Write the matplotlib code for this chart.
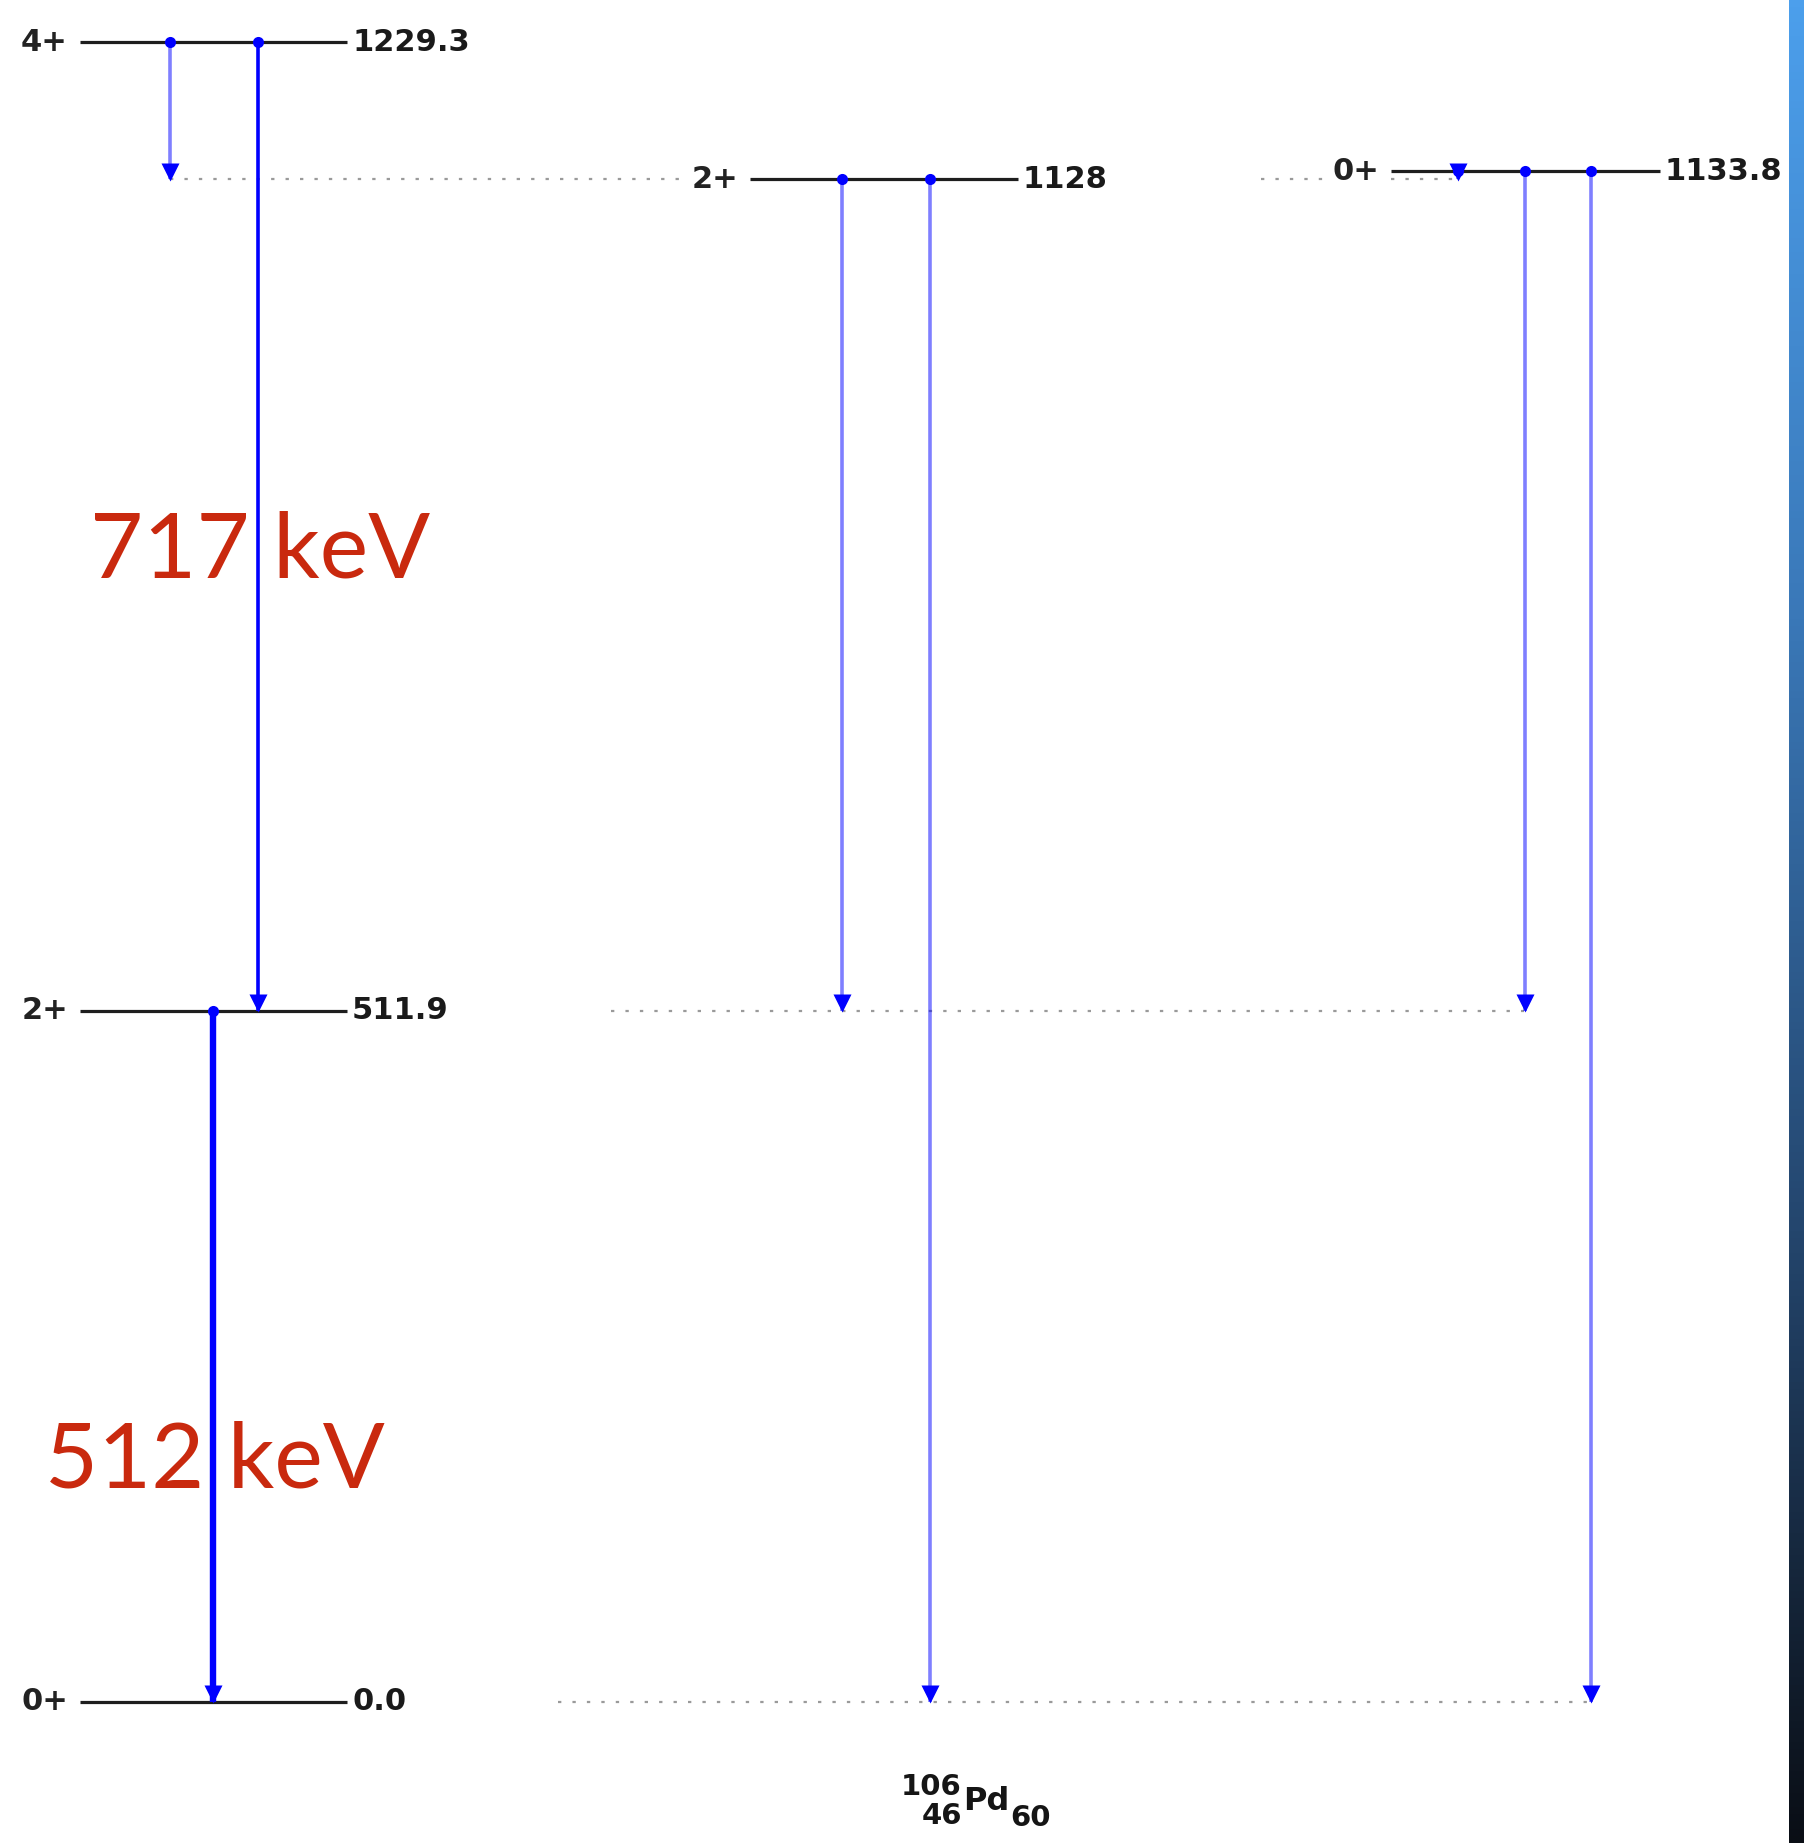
import matplotlib.pyplot as plt
import numpy as np
from matplotlib.colors import LinearSegmentedColormap
from matplotlib.transforms import offset_copy

W, H = 1804, 1843

# level scheme of 106Pd (energies in keV)
level_energy = [0.0, 511.9, 1229.3, 1128.0, 1133.8]
level_spin = ['0+', '2+', '4+', '2+', '0+']
level_text = ['0.0', '511.9', '1229.3', '1128', '1133.8']
level_col = [0, 0, 0, 1, 2]

# gamma transitions: initial level -> final level
gamma_from = [2, 2, 1, 3, 3, 4, 4, 4]
gamma_to = [3, 1, 0, 1, 0, 3, 1, 0]
gamma_kind = ['weak', 'strong', 'main', 'weak', 'weak', 'weak', 'weak', 'weak']

big_labels = ['717 keV', '512 keV']
# nucleus label pieces: mass, proton number, symbol, neutron number
nucleus = ['106', '46', 'Pd', '60']

# layout, in pixels
px_per_kev = 1.35
zero_px = 1702
col_x = [(80, 347), (750, 1018), (1391, 1660)]
gamma_x = [170, 258, 213, 842, 930, 1458, 1525, 1591]
guide_level = [3, 3, 1, 0]
guide_x = [(170, 690), (1261, 1458), (611, 1524), (558, 1590)]
big_pos = [(90, 577), (45, 1487)]
nuc_pos = [(962, 1795, 'right', 21), (962, 1824, 'right', 21),
           (963, 1810, 'left', 23), (1010, 1826, 'left', 21)]

styles = {
    'weak': dict(lw=2.6, alpha=0.5),
    'strong': dict(lw=2.6, alpha=1.0),
    'main': dict(lw=4.6, alpha=1.0),
}

fig = plt.figure(figsize=(W / 100, H / 100), dpi=100)
ax = fig.add_axes([0, 0, 1, 1])
ax.set_xlim(0, W)
ax.set_ylim((zero_px - H) / px_per_kev, zero_px / px_per_kev)
ax.axis('off')

# dotted guides
for lev, (x0, x1) in zip(guide_level, guide_x):
    e = level_energy[lev]
    ax.plot([x0, x1], [e, e], color='#9a9a9a', lw=1.6,
            linestyle=(0, (1.5, 5)), zorder=1)

# levels
for e, spin, txt, col in zip(level_energy, level_spin, level_text, level_col):
    x0, x1 = col_x[col]
    ax.plot([x0, x1], [e, e], color='#1e1e1e', lw=2.3, zorder=2,
            solid_capstyle='butt')
    ax.text(x0 - 12, e, spin, ha='right', va='center', fontsize=22,
            fontweight='bold', color='#222222', zorder=5,
            bbox=dict(facecolor='white', edgecolor='none', pad=1))
    ax.text(x1 + 5, e, txt, ha='left', va='center', fontsize=22,
            fontweight='bold', color='#1a1a1a', zorder=5)

# gamma rays
ms_head = 13
head_tr = offset_copy(ax.transData, fig=fig, y=ms_head * 0.42, units='points')
for i, f, k, x in zip(gamma_from, gamma_to, gamma_kind, gamma_x):
    e0, e1 = level_energy[i], level_energy[f]
    st = styles[k]
    ax.plot([x, x], [e0, e1], color='#0000ff', lw=st['lw'],
            alpha=st['alpha'], zorder=3, solid_capstyle='butt')
    ax.plot(x, e0, 'o', color='#0000ff', ms=8, mec='none', zorder=4)
    ax.plot(x, e1, 'v', color='#0000ff', ms=ms_head, mec='none', zorder=4,
            transform=head_tr)

# big red energy labels
for lab, (x, y) in zip(big_labels, big_pos):
    fig.text(x / W, 1 - y / H, lab, ha='left', va='baseline',
             fontsize=66, family='Lato', color='#c9290e')

# nucleus name under the scheme
for piece, (x, y, ha, fs) in zip(nucleus, nuc_pos):
    fig.text(x / W, 1 - y / H, piece, ha=ha, va='baseline',
             fontsize=fs, fontweight='bold', color='#151515')

# blue gradient strip on the right edge
bar = fig.add_axes([1789 / W, 0, 15 / W, 1])
cmap = LinearSegmentedColormap.from_list(
    'strip', ['#4c9fec', '#3a78b8', '#24466e', '#0a0e15'])
bar.imshow(np.linspace(0, 1, 256).reshape(-1, 1), aspect='auto', cmap=cmap)
bar.axis('off')

fig.savefig('out.png', dpi=100)
